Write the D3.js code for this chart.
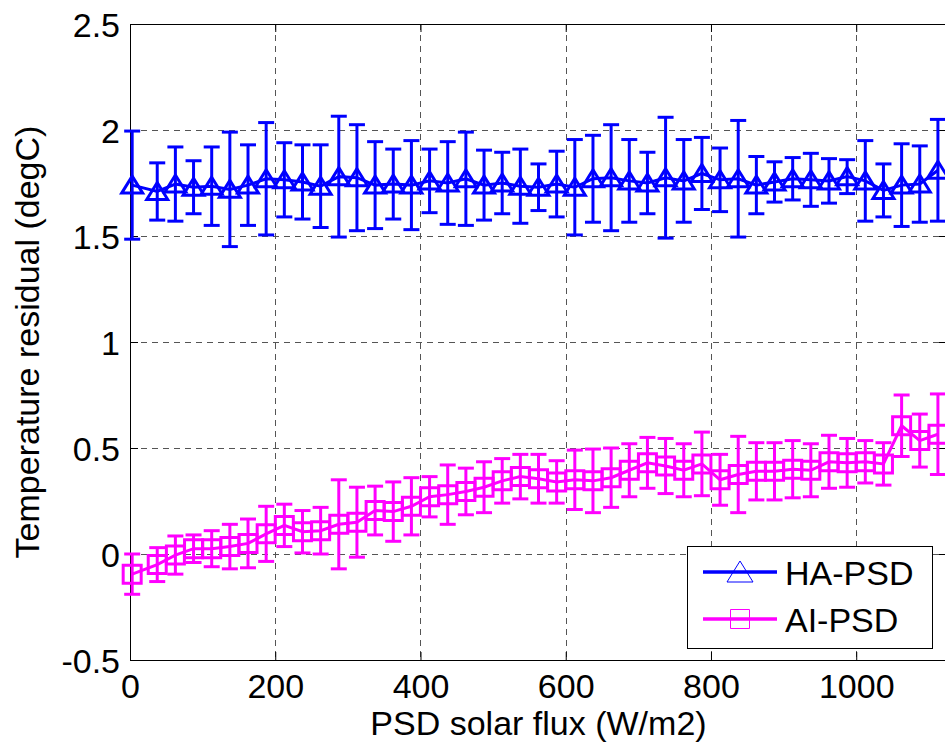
<!DOCTYPE html>
<html>
<head>
<meta charset="utf-8">
<script src="https://cdn.jsdelivr.net/npm/d3@7"></script>
<style>
  body { margin: 0; background: #fff; }
  svg { display: block; font-family: "Liberation Sans", Arial, sans-serif; }
</style>
</head>
<body>
<div id="chart"></div>
<script>
// bin centres of PSD solar flux (W/m2)
var fluxBins = [3, 37.5, 62.5, 87.5, 112.5, 137.5, 162.5, 187.5, 212.5, 237.5,
    262.5, 287.5, 312.5, 337.5, 362.5, 387.5, 412.5, 437.5, 462.5, 487.5,
    512.5, 537.5, 562.5, 587.5, 612.5, 637.5, 662.5, 687.5, 712.5, 737.5,
    762.5, 787.5, 812.5, 837.5, 862.5, 887.5, 912.5, 937.5, 962.5, 987.5,
    1012.5, 1037.5, 1062.5, 1087.5, 1112.5];

var haMean = [1.74, 1.71, 1.745, 1.73, 1.735, 1.72, 1.74, 1.77, 1.765, 1.755,
    1.735, 1.78, 1.775, 1.74, 1.745, 1.74, 1.76, 1.75, 1.77, 1.74,
    1.75, 1.735, 1.73, 1.745, 1.73, 1.77, 1.775, 1.76, 1.75, 1.775,
    1.76, 1.795, 1.765, 1.77, 1.74, 1.755, 1.77, 1.765, 1.76, 1.78,
    1.76, 1.715, 1.74, 1.745, 1.81];
var haErr = [0.255, 0.135, 0.175, 0.125, 0.185, 0.27, 0.19, 0.265, 0.175, 0.175,
    0.195, 0.285, 0.25, 0.205, 0.165, 0.21, 0.15, 0.195, 0.22, 0.165,
    0.145, 0.175, 0.11, 0.155, 0.225, 0.205, 0.25, 0.195, 0.145, 0.285,
    0.195, 0.17, 0.15, 0.275, 0.135, 0.095, 0.1, 0.125, 0.105, 0.08,
    0.19, 0.125, 0.195, 0.18, 0.24];

var aiMean = [-0.095, -0.05, -0.005, 0.025, 0.025, 0.035, 0.05, 0.095, 0.135, 0.105,
    0.11, 0.14, 0.15, 0.205, 0.2, 0.225, 0.27, 0.28, 0.295, 0.315,
    0.345, 0.365, 0.355, 0.34, 0.35, 0.345, 0.36, 0.395, 0.43, 0.415,
    0.395, 0.425, 0.35, 0.375, 0.39, 0.39, 0.4, 0.395, 0.435, 0.43,
    0.435, 0.425, 0.605, 0.535, 0.565];
var aiErr = [0.095, 0.08, 0.09, 0.065, 0.085, 0.105, 0.115, 0.13, 0.1, 0.1,
    0.11, 0.21, 0.165, 0.115, 0.14, 0.135, 0.095, 0.14, 0.11, 0.12,
    0.105, 0.105, 0.115, 0.1, 0.14, 0.15, 0.14, 0.125, 0.12, 0.13,
    0.125, 0.15, 0.12, 0.18, 0.135, 0.135, 0.135, 0.125, 0.125, 0.115,
    0.1, 0.1, 0.145, 0.125, 0.19];

var xTicks = [0, 200, 400, 600, 800, 1000];
var yTicks = [-0.5, 0, 0.5, 1, 1.5, 2, 2.5];
var seriesNames = ["HA-PSD", "AI-PSD"];
var seriesColors = ["#0000ff", "#ff00ff"];

var width = 945, height = 748;
var plotLeft = 130, plotRight = 947, plotTop = 24, plotBottom = 660;

var svg = d3.select("#chart").append("svg")
    .attr("width", width)
    .attr("height", height);

var x = d3.scaleLinear().domain([0, 1125]).range([plotLeft, plotRight]);
var y = d3.scaleLinear().domain([-0.5, 2.5]).range([plotBottom, plotTop]);

// grid
var grid = svg.append("g").attr("stroke", "#555").attr("stroke-width", 1)
    .attr("stroke-dasharray", "6,5").attr("shape-rendering", "crispEdges");
grid.selectAll(".vg").data(xTicks.slice(1)).enter().append("line")
    .attr("x1", function (d) { return Math.round(x(d)) + 0.5; })
    .attr("x2", function (d) { return Math.round(x(d)) + 0.5; })
    .attr("y1", plotTop).attr("y2", plotBottom);
grid.selectAll(".hg").data(yTicks.slice(1, -1)).enter().append("line")
    .attr("y1", function (d) { return Math.round(y(d)) + 0.5; })
    .attr("y2", function (d) { return Math.round(y(d)) + 0.5; })
    .attr("x1", plotLeft).attr("x2", plotRight);

// axes
var xAxis = d3.axisBottom(x).tickValues(xTicks).tickSizeInner(-8).tickSizeOuter(0).tickPadding(14)
    .tickFormat(function (d) { return String(d); });
var yAxis = d3.axisLeft(y).tickValues(yTicks).tickSizeInner(-8).tickSizeOuter(0).tickPadding(10)
    .tickFormat(function (d) { return String(d); });

var gx = svg.append("g").attr("transform", "translate(0," + plotBottom + ")").call(xAxis);
var gy = svg.append("g").attr("transform", "translate(" + plotLeft + ",0)").call(yAxis);
svg.append("g").attr("transform", "translate(0," + plotTop + ")")
    .call(d3.axisTop(x).tickValues(xTicks).tickSizeInner(-8).tickSizeOuter(0).tickFormat(""));
svg.append("g").attr("transform", "translate(" + plotRight + ",0)")
    .call(d3.axisRight(y).tickValues(yTicks).tickSizeInner(-8).tickSizeOuter(0).tickFormat(""));

svg.selectAll(".domain").attr("stroke", "#000").attr("stroke-width", 1);
svg.selectAll(".tick line").attr("stroke", "#000");
[gx, gy].forEach(function (g) {
    g.selectAll("text").attr("fill", "#000").style("font-size", "34px")
        .style("font-family", "'Liberation Sans', Arial, sans-serif");
});
gx.selectAll("text").attr("dy", "0.71em");
gy.selectAll("text").attr("dy", "0.36em");

// axis titles
svg.append("text")
    .attr("x", (plotLeft + plotRight) / 2).attr("y", 735)
    .attr("text-anchor", "middle").style("font-size", "34px")
    .text("PSD solar flux (W/m2)");
svg.append("text")
    .attr("transform", "translate(39," + (plotTop + plotBottom) / 2 + ") rotate(-90)")
    .attr("text-anchor", "middle").style("font-size", "34px")
    .text("Temperature residual (degC)");

var triPath = "M0,-9L10.5,8L-10.5,8Z";
var sqPath = "M-9,-9H9V9H-9Z";

function drawSeries(means, errs, color, marker) {
    var data = fluxBins.map(function (f, i) { return { x: f, m: means[i], e: errs[i] }; });
    var g = svg.append("g").attr("stroke", color).attr("fill", "none").attr("stroke-width", 3);

    var line = d3.line().x(function (d) { return x(d.x); }).y(function (d) { return y(d.m); });
    g.append("path").datum(data).attr("d", line);

    var bars = g.selectAll(".eb").data(data).enter().append("g");
    bars.append("line")
        .attr("x1", function (d) { return x(d.x); }).attr("x2", function (d) { return x(d.x); })
        .attr("y1", function (d) { return y(d.m - d.e); }).attr("y2", function (d) { return y(d.m + d.e); });
    bars.append("line")
        .attr("x1", function (d) { return x(d.x) - 8; }).attr("x2", function (d) { return x(d.x) + 8; })
        .attr("y1", function (d) { return y(d.m + d.e); }).attr("y2", function (d) { return y(d.m + d.e); });
    bars.append("line")
        .attr("x1", function (d) { return x(d.x) - 8; }).attr("x2", function (d) { return x(d.x) + 8; })
        .attr("y1", function (d) { return y(d.m - d.e); }).attr("y2", function (d) { return y(d.m - d.e); });
    bars.append("path")
        .attr("d", marker)
        .attr("transform", function (d) { return "translate(" + x(d.x) + "," + y(d.m) + ")"; });
}

drawSeries(haMean, haErr, seriesColors[0], triPath);
drawSeries(aiMean, aiErr, seriesColors[1], sqPath);

// legend
var lg = svg.append("g");
lg.append("rect").attr("x", 687.5).attr("y", 546.5).attr("width", 245).attr("height", 102)
    .attr("fill", "#fff").attr("stroke", "#000").attr("stroke-width", 1);
var rows = [572, 619];
var markers = ["M0,-11L13,10L-13,10Z", "M-9.5,-9.5H9.5V9.5H-9.5Z"];
seriesNames.forEach(function (name, i) {
    lg.append("line").attr("x1", 703).attr("x2", 777).attr("y1", rows[i]).attr("y2", rows[i])
        .attr("stroke", seriesColors[i]).attr("stroke-width", 3.5);
    lg.append("path").attr("d", markers[i])
        .attr("transform", "translate(740," + rows[i] + ")")
        .attr("fill", "none").attr("stroke", seriesColors[i]).attr("stroke-width", 1);
    lg.append("text").attr("x", 785).attr("y", rows[i] + 13)
        .style("font-size", "34px").text(name);
});
</script>
</body>
</html>
